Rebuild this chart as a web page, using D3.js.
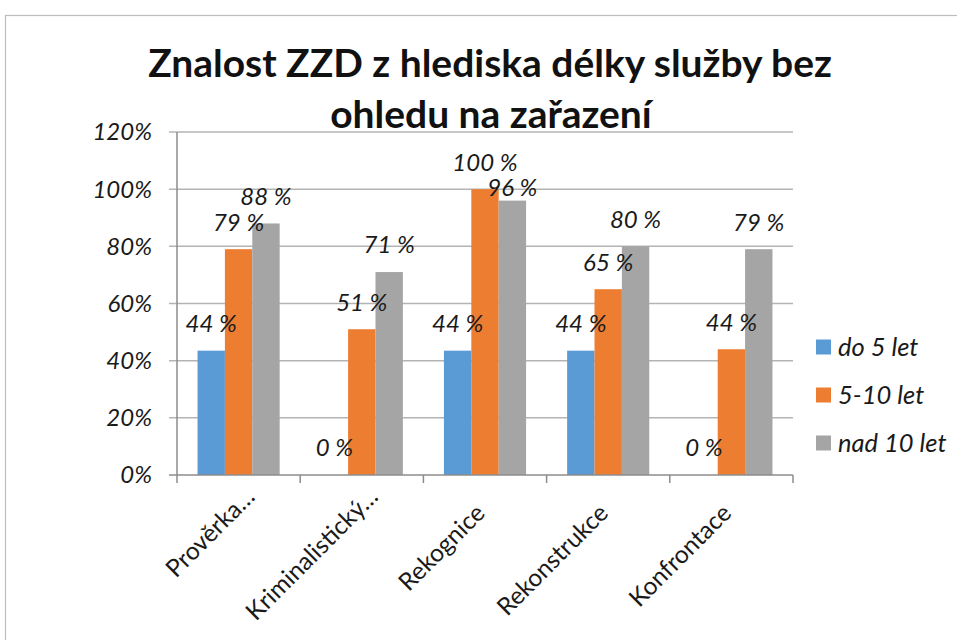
<!DOCTYPE html>
<html><head><meta charset="utf-8">
<script src="https://cdn.jsdelivr.net/npm/d3@7"></script>
<style>body{margin:0;background:#fff} text{font-family:Lato,'Open Sans',sans-serif}</style>
</head><body><svg id="c" width="957" height="640"></svg>
<script>
const categories = ["Prověrka…","Kriminalistický…","Rekognice","Rekonstrukce","Konfrontace"];
const seriesNames = ["do 5 let","5-10 let","nad 10 let"];
const do5 = [43.5, 0, 43.5, 43.5, 0];
const od5do10 = [79, 51, 100, 65, 44];
const nad10 = [88, 71, 96, 80, 79];
const yTicks = [0, 20, 40, 60, 80, 100, 120];
const titleLines = ["Znalost ZZD z hlediska délky služby bez", "ohledu na zařazení"];
const colors = ["#5B9BD5", "#ED7D31", "#A5A5A5"];
const seriesValues = [do5, od5do10, nad10];

const svg = d3.select("#c");
const L = 177, R = 793, B = 475, T = 132;

// outer border
svg.append("rect").attr("x", 5.5).attr("y", 15.5).attr("width", 1000).attr("height", 700)
  .attr("fill", "none").attr("stroke", "#bdbdbd").attr("stroke-width", 1.2);

const y = d3.scaleLinear().domain([0, 120]).range([B, T]);
const x0 = d3.scaleBand().domain(categories).range([L, R]).paddingInner(1/3).paddingOuter(1/6);
const x1 = d3.scaleBand().domain(seriesNames).range([0, x0.bandwidth()]);
const step = x0.step();

// gridlines
svg.append("g").selectAll("line").data(yTicks.filter(t => t > 0)).join("line")
  .attr("x1", L - 8).attr("x2", R).attr("y1", d => y(d)).attr("y2", d => y(d))
  .attr("stroke", "#b4b4b4").attr("stroke-width", 1.5);

// y tick labels
svg.append("g").selectAll("text").data(yTicks).join("text")
  .attr("x", 152).attr("y", d => y(d)).attr("dy", "0.35em")
  .attr("text-anchor", "end").attr("font-style", "italic").attr("font-size", 24).attr("fill", "#1a1a1a")
  .text(d => d + "%");

// bars
const rows = categories.map((c, i) => ({c, vals: seriesValues.map((s, j) => ({s: seriesNames[j], j, v: s[i], c}))}));
const groups = svg.append("g").selectAll("g").data(rows).join("g")
  .attr("transform", d => `translate(${x0(d.c)},0)`);
groups.selectAll("rect").data(d => d.vals).join("rect")
  .attr("x", d => x1(d.s)).attr("width", x1.bandwidth())
  .attr("y", d => y(d.v)).attr("height", d => B - y(d.v))
  .attr("fill", d => colors[d.j]);

// axes lines
svg.append("line").attr("x1", L).attr("x2", L).attr("y1", T).attr("y2", B)
  .attr("stroke", "#8c8c8c").attr("stroke-width", 1.5);
svg.append("line").attr("x1", L - 8).attr("x2", R).attr("y1", B).attr("y2", B)
  .attr("stroke", "#8c8c8c").attr("stroke-width", 1.5);
svg.append("g").selectAll("line").data(d3.range(categories.length + 1)).join("line")
  .attr("x1", i => L + i * step).attr("x2", i => L + i * step).attr("y1", B).attr("y2", B + 8)
  .attr("stroke", "#8c8c8c").attr("stroke-width", 1.5);

// value labels
const nudge = {"Rekognice|nad 10 let": 14};
groups.selectAll("text").data(d => d.vals).join("text")
  .attr("x", d => x1(d.s) + x1.bandwidth() / 2)
  .attr("y", d => y(d.v) - 27 + (nudge[d.c + "|" + d.s] || 0)).attr("dy", "0.35em")
  .attr("text-anchor", "middle").attr("font-style", "italic").attr("font-size", 24).attr("fill", "#1a1a1a")
  .text(d => Math.round(d.v) + " %");

// x category labels
const s2 = Math.SQRT1_2;
svg.append("g").selectAll("text").data(categories).join("text")
  .attr("transform", c => {
    const cx = x0(c) + x0.bandwidth() / 2;
    const along = c.endsWith("…") ? -4 : -27;
    const perp = 29;
    const ax = cx + along * s2 + perp * s2;
    const ay = B - along * s2 + perp * s2;
    return `translate(${ax},${ay}) rotate(-45)`;
  })
  .attr("text-anchor", "end").attr("font-size", 24.5).attr("fill", "#1a1a1a")
  .text(c => c);

// legend
const lg = svg.append("g").selectAll("g").data(seriesNames).join("g")
  .attr("transform", (d, i) => `translate(816,${347 + i * 48})`);
lg.append("rect").attr("x", 0).attr("y", -7.5).attr("width", 15).attr("height", 15)
  .attr("fill", (d, i) => colors[i]);
lg.append("text").attr("x", 22).attr("dy", "0.35em").attr("font-style", "italic")
  .attr("font-size", 25.5).attr("fill", "#1a1a1a").text(d => d);

// title
const title = svg.append("g").attr("font-weight", "bold").attr("fill", "#111");
const t1 = title.append("text").attr("x", 490).attr("y", 77).attr("text-anchor", "middle")
  .attr("font-size", 40).text(titleLines[0]);
const w = t1.node().getComputedTextLength();
const fs = 40 * 684 / w;
t1.attr("font-size", fs);
title.append("text").attr("x", 491).attr("y", 128).attr("text-anchor", "middle")
  .attr("font-size", fs).text(titleLines[1]);
</script></body></html>
